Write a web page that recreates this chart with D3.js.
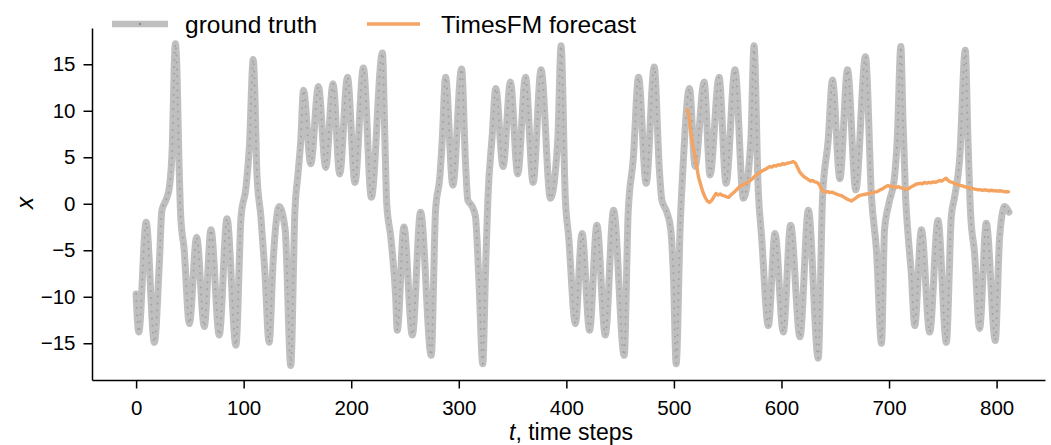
<!DOCTYPE html>
<html><head><meta charset="utf-8">
<script src="https://cdn.jsdelivr.net/npm/d3@7"></script>
<style>
body{margin:0;background:#fff}
svg{display:block}
text{font-family:"Liberation Sans",Arial,Helvetica,sans-serif}
</style>
</head><body>
<svg id="c" width="1051" height="445"></svg>
<script>
// ---- data ----
const gtTime = [0,2.5,9.3,17,21.6,24,27.8,31,33.8,35.4,36.5,37.7,39.9,41.5,44.6,49.5,56.3,63.4,69.6,77.3,84.5,92.8,
  97.6,102.2,105.3,108.9,110.5,112.3,116,119.6,123.7,127.5,133,138.6,143.8,147.6,150.6,153.1,155.6,
  162.4,169.5,176.3,183.1,189.3,196.5,203.5,211.3,218.7,229,231.4,233,236.7,241.3,242.8,
  249,256.8,264.5,274.4,278.4,282.4,284.6,287.7,294.5,302.6,306.3,308.4,312.5,315.5,318.6,322.3,
  324.8,327,331,334.4,341.2,348,354.8,362,369.1,376.5,385.2,392,395.1,399,402.2,408.4,
  414.6,421.6,428.4,436.2,443.9,453.8,457.5,462.2,467.1,474.2,481.7,486.5,488.8,493.4,497.1,499.6,502.1,
  505.8,508.3,514.5,519.7,528.1,533.6,542,548.5,556.8,564.6,571.5,574.5,578.4,581.5,587.8,
  594,601.7,608.5,617.2,625,634.2,638.2,643.4,647.4,654.3,661.4,669.1,678.1,683.7,688.3,693,
  695.8,699.8,705.1,707.6,711,712.9,715.4,717.6,720.7,723.9,730.1,737.8,745.5,753.3,
  757.9,760.9,765.6,770.9,773.3,775.8,779.5,784.2,790.4,798.8,802.8,807.5,811.5];
const gtValue = [-9.7,-13.8,-2.0,-14.9,-6.4,-0.7,0.4,1.8,6.7,14.6,17.2,15.3,4.4,-1.4,-4.8,-12.9,-3.6,-13.2,-2.8,-14.1,-1.6,-15.2,
  -1.4,1.8,6.1,15.5,11.5,3.3,-1.4,-7.1,-14.9,-6.0,-0.3,-2.8,-17.4,-0.9,3.3,6.8,12.2,
  4.3,12.6,3.9,12.9,3.2,13.6,2.3,14.6,0.7,16.2,6.5,0,-3.5,-10,-13.6,
  -2.5,-14.1,-0.9,-16.3,-0.7,2.9,6.8,13.6,2.0,14.5,4.3,0.4,-0.3,-1.4,-7.9,-17.2,
  -7.5,0.4,7.2,12.4,4.0,13.1,3.2,13.6,2.3,14.4,0.6,6.8,17.0,0.7,-3.6,-12.9,
  -3.2,-13.6,-2.3,-14.1,-0.7,-16.3,-0.9,4.8,13.6,2.2,14.7,3.6,0.4,-0.9,-2.8,-7.9,-17.2,
  -2.5,3.6,12.4,4.0,13.1,3.1,13.6,2.2,14.4,0.6,6.8,17.0,1.5,-3.5,-13.1,
  -3.2,-13.8,-2.3,-14.3,-0.7,-16.6,0.7,6.8,13.3,2.7,14.4,1.5,15.8,0.7,-5.0,-15.0,
  -2.8,0,2.9,6.8,16.9,9.3,0.7,-3.2,-7.5,-13.1,-2.8,-13.8,-1.8,-14.9,
  -1.4,0.7,4.7,16.5,7.2,-1.0,-5.3,-13.4,-2.1,-14.7,-3.6,-0.3,-0.9];
const fcTime = [512.6,514,515.5,517,518.5,520,521.5,523,524.5,526,527.5,529,531,533,535,537,539,541,543,545,547,549,551,553,555,557,559,561,563,565,567,569,571,573,575,577,579,581,583,585,587,589,591,593,595,597,599,601,603,605,607,609,611,613,615,617,619,621,623,625,627,629,631,633,635,637,639,641,643,645,647,649,651,653,655,657,659,661,663,665,667,669,671,673,675,677,679,681,683,685,687,689,691,693,695,697,699,701,703,705,707,709,711,713,715,717,719,721,723,725,727,729,731,733,735,737,739,741,743,745,747,749,751,753,755,757,759,761,763,765,767,769,771,773,775,777,779,781,783,785,787,789,791,793,795,797,799,801,803,805,807,809,811];
const fcValue = [10.1,9.4,8.0,6.6,5.8,4.9,3.8,2.8,2.2,1.6,1.1,0.7,0.3,0.15,0.35,0.7,1.1,0.95,1.05,0.9,0.85,0.75,0.7,0.95,1.15,1.35,1.6,1.85,1.95,2.1,2.2,2.35,2.5,2.7,2.95,3.1,3.3,3.45,3.6,3.7,3.85,4.0,3.95,4.1,4.05,4.2,4.15,4.3,4.25,4.35,4.4,4.45,4.55,4.35,3.9,3.4,3.15,2.9,2.75,2.6,2.45,2.5,2.35,2.3,2.1,1.6,1.3,1.25,1.3,1.2,1.25,1.15,1.05,0.95,0.9,0.8,0.65,0.5,0.4,0.3,0.45,0.6,0.8,0.9,0.95,1.0,1.05,1.1,1.15,1.2,1.25,1.3,1.45,1.55,1.7,1.85,1.95,1.85,1.9,1.8,1.75,1.85,1.7,1.65,1.6,1.55,1.7,1.85,1.95,2.1,2.15,2.2,2.15,2.3,2.2,2.3,2.25,2.35,2.3,2.4,2.5,2.45,2.6,2.75,2.5,2.35,2.3,2.15,2.1,2.0,1.95,1.9,1.8,1.75,1.7,1.65,1.6,1.55,1.5,1.5,1.45,1.5,1.45,1.4,1.45,1.4,1.4,1.35,1.4,1.35,1.3,1.3,1.3];
const xTickValues = [0,100,200,300,400,500,600,700,800];
const yTickValues = [-15,-10,-5,0,5,10,15];
const seriesNames = ["ground truth","TimesFM forecast"];
const seriesColors = ["#bfbfbf","#f4a460"];
const markerColor = "#8a8a8a";

// ---- drawing ----
const svg = d3.select("#c");
const x = d3.scaleLinear().domain([-41, 845]).range([92, 1045]);
const y = d3.scaleLinear().domain([-18.95, 18.9]).range([380, 28]);

const gt = gtTime.map((t,i)=>[t,gtValue[i]]);
const fc = fcTime.map((t,i)=>[t,fcValue[i]]);

const gtLine = d3.line().x(d=>x(d[0])).y(d=>y(d[1])).curve(d3.curveMonotoneX);
svg.append("path").datum(gt).attr("d",gtLine)
  .attr("fill","none").attr("stroke",seriesColors[0]).attr("stroke-width",7)
  .attr("stroke-linejoin","round").attr("stroke-linecap","round");
// small marker dots along the curve
svg.append("path").datum(gt).attr("d",gtLine)
  .attr("fill","none").attr("stroke",markerColor).attr("stroke-width",2)
  .attr("stroke-linecap","round").attr("stroke-dasharray","0 7")
  .attr("opacity",0.55);

svg.append("path").datum(fc)
  .attr("d",d3.line().x(d=>x(d[0])).y(d=>y(d[1])))
  .attr("fill","none").attr("stroke",seriesColors[1]).attr("stroke-width",3.4)
  .attr("stroke-linejoin","round").attr("stroke-linecap","round");

// axes
const xa = svg.append("g").attr("transform","translate(0,380)")
  .call(d3.axisBottom(x).tickValues(xTickValues).tickSize(8.5).tickPadding(11.5).tickSizeOuter(0));
const ya = svg.append("g").attr("transform","translate(92,0)")
  .call(d3.axisLeft(y).tickValues(yTickValues).tickSize(8.5).tickPadding(8).tickSizeOuter(0));
[xa,ya].forEach(a=>{
  a.select(".domain").attr("stroke","#000").attr("stroke-width",1.5);
  a.selectAll(".tick line").attr("stroke","#000").attr("stroke-width",1.5);
  a.selectAll(".tick text").attr("fill","#000").style("font-size","20.5px")
   .style("font-family",'"Liberation Sans",Arial,sans-serif');
});
ya.selectAll(".tick text").text(d=>d<0?"\u2212"+Math.abs(d):d);

// axis labels
const xl = svg.append("text").attr("x",571).attr("y",440).attr("text-anchor","middle")
  .style("font-size","23px").attr("fill","#000");
xl.append("tspan").style("font-style","italic").text("t");
xl.append("tspan").text(", time steps");
svg.append("text").attr("transform","translate(33,203) rotate(-90)")
  .attr("text-anchor","middle").style("font-size","24px").style("font-style","italic")
  .attr("fill","#000").text("x");

// legend
const lg = svg.append("g");
lg.append("line").attr("x1",112).attr("x2",168).attr("y1",24).attr("y2",24)
  .attr("stroke",seriesColors[0]).attr("stroke-width",6.5);
lg.append("circle").attr("cx",140).attr("cy",24).attr("r",1.2).attr("fill",markerColor);
lg.append("text").attr("x",185).attr("y",32.5).style("font-size","24.5px").attr("fill","#000").text(seriesNames[0]);
lg.append("line").attr("x1",367).attr("x2",420).attr("y1",24).attr("y2",24)
  .attr("stroke",seriesColors[1]).attr("stroke-width",3.4);
lg.append("text").attr("x",441).attr("y",32.5).style("font-size","24.5px").attr("fill","#000").text(seriesNames[1]);
</script>
</body></html>
